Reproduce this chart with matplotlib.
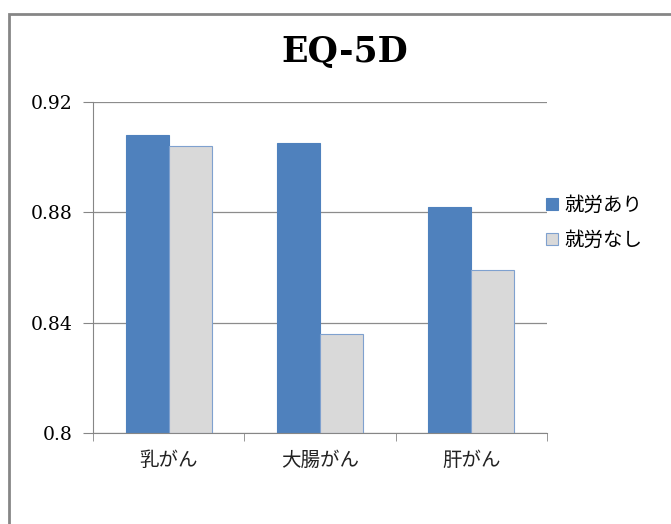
import matplotlib
matplotlib.use("Agg")
import matplotlib.pyplot as plt
import numpy as np
from matplotlib.patches import Rectangle

categories = ["乳がん", "大腸がん", "肝がん"]
working = [0.908, 0.905, 0.882]
not_working = [0.904, 0.836, 0.859]
series_names = ["就労あり", "就労なし"]
yticks = [0.8, 0.84, 0.88, 0.92]
ytick_labels = ["0.8", "0.84", "0.88", "0.92"]

jp = ["Noto Sans CJK JP", "DejaVu Sans"]
serif = ["DejaVu Serif"]

fig = plt.figure(figsize=(6.71, 5.24), dpi=100)
# outer chart frame
fig.patches.append(Rectangle((9 / 671, -0.1), 1.2, 1 - 14 / 524 + 0.1,
                             transform=fig.transFigure, fill=False,
                             edgecolor="#868686", linewidth=2))

ax = fig.add_axes([93 / 671, 1 - 433 / 524, (547 - 93) / 671, (433 - 102) / 524])

x = np.arange(len(categories))
w = 0.285
ax.bar(x - w / 2, np.array(working) - 0.8, w, bottom=0.8, color="#4F81BD",
       edgecolor="#4F81BD", linewidth=0.8, label=series_names[0])
ax.bar(x + w / 2, np.array(not_working) - 0.8, w, bottom=0.8, color="#D9D9D9",
       edgecolor="#7FA1CF", linewidth=0.8, label=series_names[1])

ax.set_xlim(-0.5, 2.5)
ax.set_ylim(0.8, 0.92)
ax.set_yticks(yticks)
ax.set_yticklabels(ytick_labels, family=serif, fontsize=13.5)
ax.set_xticks(x)
ax.set_xticklabels(categories, family=jp, fontsize=14, color="#222222")
ax.set_xticks([-0.5, 0.5, 1.5, 2.5], minor=True)
ax.tick_params(axis="x", which="major", length=0, pad=12)
ax.tick_params(axis="x", which="minor", length=6, color="#868686")
ax.tick_params(axis="y", length=7, color="#868686", pad=8)

ax.grid(axis="y", color="#8C8C8C", linewidth=0.9)
ax.set_axisbelow(True)
for s in ["top", "right"]:
    ax.spines[s].set_visible(False)
ax.spines["left"].set_color("#868686")
ax.spines["bottom"].set_color("#868686")

fig.text(345 / 671, 1 - 52 / 524, "EQ-5D", ha="center", va="center",
         family=serif, fontsize=25, fontweight="bold")

ax.legend(loc="center left", bbox_to_anchor=(0.96, 0.635), frameon=False,
          prop={"family": jp, "size": 14}, handlelength=0.6, handleheight=0.6,
          handletextpad=0.35, labelspacing=0.7)

fig.savefig("out.png", dpi=100)
